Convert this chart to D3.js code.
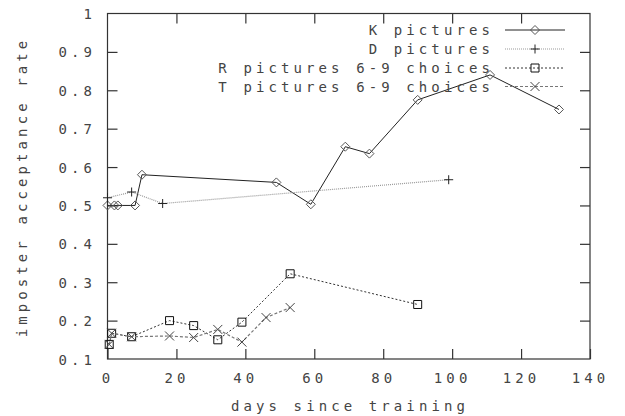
<!DOCTYPE html>
<html><head><meta charset="utf-8">
<script src="https://cdn.jsdelivr.net/npm/d3@7"></script>
<style>
body{margin:0;background:#fff;}
text{font-family:"DejaVu Sans Mono",monospace;font-size:14px;fill:#444;letter-spacing:4.1px;}
</style></head>
<body><svg id="c" width="625" height="416"></svg>
<script>
const xTicks = [0,20,40,60,80,100,120,140];
const yTicks = [0.1,0.2,0.3,0.4,0.5,0.6,0.7,0.8,0.9,1];
const yTickLabels = ["0.1","0.2","0.3","0.4","0.5","0.6","0.7","0.8","0.9","1"];
const seriesNames = ["K pictures","D pictures","R pictures 6-9 choices","T pictures 6-9 choices"];
const kDays = [0,2,3,8,10,49,59,69,76,90,111,131];
const kVals = [0.50,0.50,0.50,0.50,0.58,0.56,0.503,0.653,0.635,0.775,0.84,0.75];
const dDays = [0,7,16,99];
const dVals = [0.52,0.535,0.505,0.567];
const rDays = [0.5,1.2,7,18,25,32,39,53,90];
const rVals = [0.138,0.167,0.158,0.2,0.187,0.15,0.196,0.322,0.242];
const tDays = [0.5,1.2,7,18,25,32,39,46,53];
const tVals = [0.138,0.167,0.158,0.16,0.156,0.177,0.144,0.208,0.234];

const svg = d3.select("#c");
const L=107.5,R=590,T=13.5,B=359;
const x = d3.scaleLinear().domain([0,140]).range([L,R]);
const y = d3.scaleLinear().domain([0.1,1]).range([B,T]);
const axisCol="#333";

// frame
svg.append("rect").attr("x",L).attr("y",T).attr("width",R-L).attr("height",B-T)
  .attr("fill","none").attr("stroke",axisCol).attr("stroke-width",1.2);

// axes (inward ticks)
const tl=10;
svg.append("g").attr("transform",`translate(0,${B})`)
  .call(d3.axisBottom(x).tickValues(xTicks).tickSize(-tl).tickFormat(d=>String(d).replace(/0/g,"0")).tickPadding(12))
  .call(g=>{g.select(".domain").remove();g.selectAll("line").attr("stroke",axisCol).attr("stroke-width",1.2);
    g.selectAll("text").attr("font-family",null).attr("font-size",null).attr("fill",null).attr("dy","0.71em").attr("y",14);});
svg.append("g").attr("transform",`translate(0,${T})`)
  .call(d3.axisTop(x).tickValues(xTicks.slice(1,-1)).tickSize(-tl).tickFormat(""))
  .call(g=>{g.select(".domain").remove();g.selectAll("line").attr("stroke",axisCol).attr("stroke-width",1.2);});
svg.append("g").attr("transform",`translate(${L},0)`)
  .call(d3.axisLeft(y).tickValues(yTicks).tickSize(-tl).tickFormat((d,i)=>yTickLabels[i]))
  .call(g=>{g.select(".domain").remove();g.selectAll("line").attr("stroke",axisCol).attr("stroke-width",1.2);
    g.selectAll("line").filter(d=>d===0.1||d===1).remove();
    g.selectAll("text").attr("font-family",null).attr("font-size",null).attr("fill",null).attr("x",-11.5).attr("dy","0.36em");});
svg.append("g").attr("transform",`translate(${R},0)`)
  .call(d3.axisRight(y).tickValues(yTicks.slice(1,-1)).tickSize(-tl).tickFormat(""))
  .call(g=>{g.select(".domain").remove();g.selectAll("line").attr("stroke",axisCol).attr("stroke-width",1.2);});

// axis titles
svg.append("text").attr("x",350).attr("y",411).attr("text-anchor","middle").text("days since training");
svg.append("text").attr("transform","translate(27,187) rotate(-90)").attr("text-anchor","middle").text("imposter acceptance rate");

// markers
function marker(type){
  const s=4.5;
  if(type==="diamond") return `M0,${-s}L${s},0L0,${s}L${-s},0Z`;
  if(type==="plus") return `M${-s},0H${s}M0,${-s}V${s}`;
  if(type==="square") return `M${-s+0.5},${-s+0.5}H${s-0.5}V${s-0.5}H${-s+0.5}Z`;
  if(type==="cross") return `M${-s},${-s}L${s},${s}M${s},${-s}L${-s},${s}`;
}
const series = [
  {days:kDays,vals:kVals,color:"#222",mcol:"#555",dash:null,type:"diamond",w:1},
  {days:dDays,vals:dVals,color:"#999",mcol:"#222",dash:"1,1",type:"plus",w:1.2},
  {days:rDays,vals:rVals,color:"#333",mcol:"#111",dash:"2,2",type:"square",w:1},
  {days:tDays,vals:tVals,color:"#777",mcol:"#444",dash:"3,2",type:"cross",w:1.2}
];
const line = d3.line();
series.forEach(s=>{
  const pts = s.days.map((d,i)=>[x(d),y(s.vals[i])]);
  svg.append("path").attr("d",line(pts)).attr("fill","none").attr("stroke",s.color)
    .attr("stroke-width",s.w).attr("stroke-dasharray",s.dash);
  svg.append("g").selectAll("path").data(pts).join("path")
    .attr("transform",p=>`translate(${p[0]},${p[1]})`).attr("d",marker(s.type))
    .attr("fill","none").attr("stroke",s.mcol).attr("stroke-width",1);
});

// legend
const legY=[30,49,68,86.5];
seriesNames.forEach((n,i)=>{
  const s=series[i];
  svg.append("text").attr("x",494).attr("y",legY[i]).attr("dy","0.36em").attr("text-anchor","end").text(n);
  svg.append("path").attr("d",line([[505,legY[i]],[565,legY[i]]])).attr("stroke",s.color)
    .attr("stroke-width",s.w).attr("stroke-dasharray",s.dash).attr("fill","none");
  svg.append("path").attr("transform",`translate(535,${legY[i]})`).attr("d",marker(s.type))
    .attr("fill","none").attr("stroke",s.mcol).attr("stroke-width",1);
});
</script></body></html>
